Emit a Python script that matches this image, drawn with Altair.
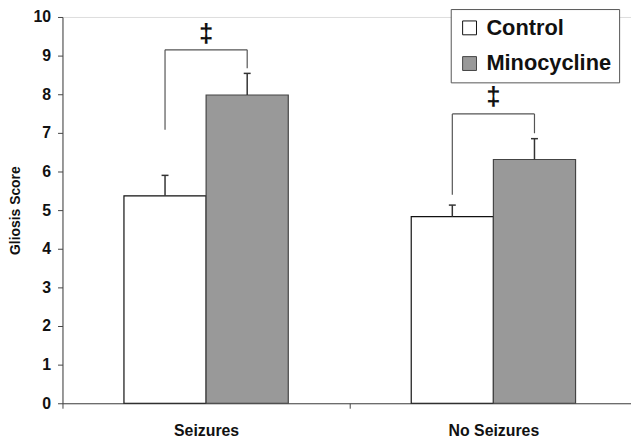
import altair as alt
import pandas as pd

# ---- data ----
groups = ["Seizures", "No Seizures"]
series = ["Control", "Minocycline"]
control_mean = [5.37, 4.83]
control_err = [0.53, 0.30]
mino_mean = [7.98, 6.31]
mino_err = [0.56, 0.54]
bracket_top = [9.15, 7.49]
bracket_left_bottom = [7.08, 5.40]
bracket_right_bottom = [8.67, 6.99]
sig_labels = ["‡", "‡"]
sig_y = [9.56, 7.92]
y_ticks = list(range(0, 11))

# ---- layout constants ----
BAR_W = 0.286          # bar width as fraction of a group band
FONT = "Liberation Sans"

bar_rows, err_rows, br_rows, sig_rows = [], [], [], []
for i, g in enumerate(groups):
    c_center = i + 0.5 - BAR_W / 2
    m_center = i + 0.5 + BAR_W / 2
    bar_rows.append(dict(group=g, series=series[0], x0=i + 0.5 - BAR_W, x1=i + 0.5, v=control_mean[i]))
    bar_rows.append(dict(group=g, series=series[1], x0=i + 0.5, x1=i + 0.5 + BAR_W, v=mino_mean[i]))
    err_rows.append(dict(xc=c_center, lo=control_mean[i], hi=control_mean[i] + control_err[i]))
    err_rows.append(dict(xc=m_center, lo=mino_mean[i], hi=mino_mean[i] + mino_err[i]))
    br_rows.append(dict(xa=c_center, xb=c_center, ya=bracket_left_bottom[i], yb=bracket_top[i]))
    br_rows.append(dict(xa=c_center, xb=m_center, ya=bracket_top[i], yb=bracket_top[i]))
    br_rows.append(dict(xa=m_center, xb=m_center, ya=bracket_right_bottom[i], yb=bracket_top[i]))
    sig_rows.append(dict(xm=(c_center + m_center) / 2, y=sig_y[i], t=sig_labels[i]))

bars_df = pd.DataFrame(bar_rows)
err_df = pd.DataFrame(err_rows)
br_df = pd.DataFrame(br_rows)
sig_df = pd.DataFrame(sig_rows)

xscale = alt.Scale(domain=[0, 1.979], nice=False, zero=False)
yscale = alt.Scale(domain=[0, 10], nice=False)

label_expr = " : ".join(
    [f"datum.value == {i + 0.5} ? '{g}'" for i, g in enumerate(groups)]
) + " : ''"

xaxis = alt.Axis(
    values=[0, 0.5, 1, 1.5],
    labelExpr=label_expr,
    tickOpacity={"condition": {"test": "datum.value % 1 == 0", "value": 1}, "value": 0},
    title=None,
    grid=False,
    domainColor="#444444",
    tickColor="#444444",
    tickSize=5,
    labelFontSize=16,
    labelFontWeight="bold",
    labelFont=FONT,
    labelColor="#111111",
    labelPadding=15,
)
yaxis = alt.Axis(
    values=y_ticks,
    title="Gliosis Score",
    titleFont=FONT,
    titleFontSize=14,
    titleFontWeight="bold",
    titleColor="#111111",
    titlePadding=11,
    grid=False,
    domainColor="#444444",
    tickColor="#444444",
    tickSize=5,
    labelFontSize=16,
    labelFontWeight="bold",
    labelFont=FONT,
    labelColor="#111111",
    labelPadding=7,
)

bars = alt.Chart(bars_df).mark_bar(strokeWidth=1.2).encode(
    x=alt.X("x0:Q", scale=xscale, axis=xaxis),
    x2="x1:Q",
    y=alt.Y("v:Q", scale=yscale, axis=yaxis),
    y2=alt.datum(0),
    fill=alt.Fill(
        "series:N",
        scale=alt.Scale(domain=series, range=["#ffffff", "#999999"]),
        legend=alt.Legend(
            title=None,
            orient="none",
            legendX=392,
            legendY=-8,
            strokeColor="#555555",
            fillColor="#ffffff",
            padding=8,
            symbolType="square",
            symbolSize=196,
            symbolStrokeColor="#444444",
            symbolStrokeWidth=1,
            labelFont=FONT,
            labelFontSize=22,
            labelFontWeight="bold",
            labelColor="#111111",
            labelOffset=6,
            rowPadding=14,
        ),
    ),
    stroke=alt.Stroke(
        "series:N",
        scale=alt.Scale(domain=series, range=["#111111", "#444444"]),
        legend=None,
    ),
)

err_line = alt.Chart(err_df).mark_rule(color="#333333", strokeWidth=1.5).encode(
    x=alt.X("xc:Q", scale=xscale, axis=xaxis),
    y=alt.Y("lo:Q", scale=yscale, axis=yaxis),
    y2="hi:Q",
)
err_cap = alt.Chart(err_df).mark_rule(color="#333333", strokeWidth=1.5, xOffset=-3.5, x2Offset=3.5).encode(
    x=alt.X("xc:Q", scale=xscale, axis=xaxis),
    x2="xc:Q",
    y=alt.Y("hi:Q", scale=yscale, axis=yaxis),
)
brackets = alt.Chart(br_df).mark_rule(color="#555555", strokeWidth=1.2).encode(
    x=alt.X("xa:Q", scale=xscale, axis=xaxis),
    x2="xb:Q",
    y=alt.Y("ya:Q", scale=yscale, axis=yaxis),
    y2="yb:Q",
)
sig = alt.Chart(sig_df).mark_text(
    font=FONT, fontSize=26, fontWeight="bold", color="#111111", baseline="middle", align="center"
).encode(
    x=alt.X("xm:Q", scale=xscale, axis=xaxis),
    y=alt.Y("y:Q", scale=yscale, axis=yaxis),
    text="t:N",
)

chart = (
    alt.layer(bars, err_line, err_cap, brackets, sig)
    .properties(
        width=574,
        height=390,
        autosize=alt.AutoSizeParams(type="none"),
        padding={"left": 55, "top": 7, "right": 0, "bottom": 33},
    )
    .configure_view(strokeWidth=0)
    .configure(background="white")
)

chart.save("out.html", embed_options={"renderer": "svg", "actions": False})
